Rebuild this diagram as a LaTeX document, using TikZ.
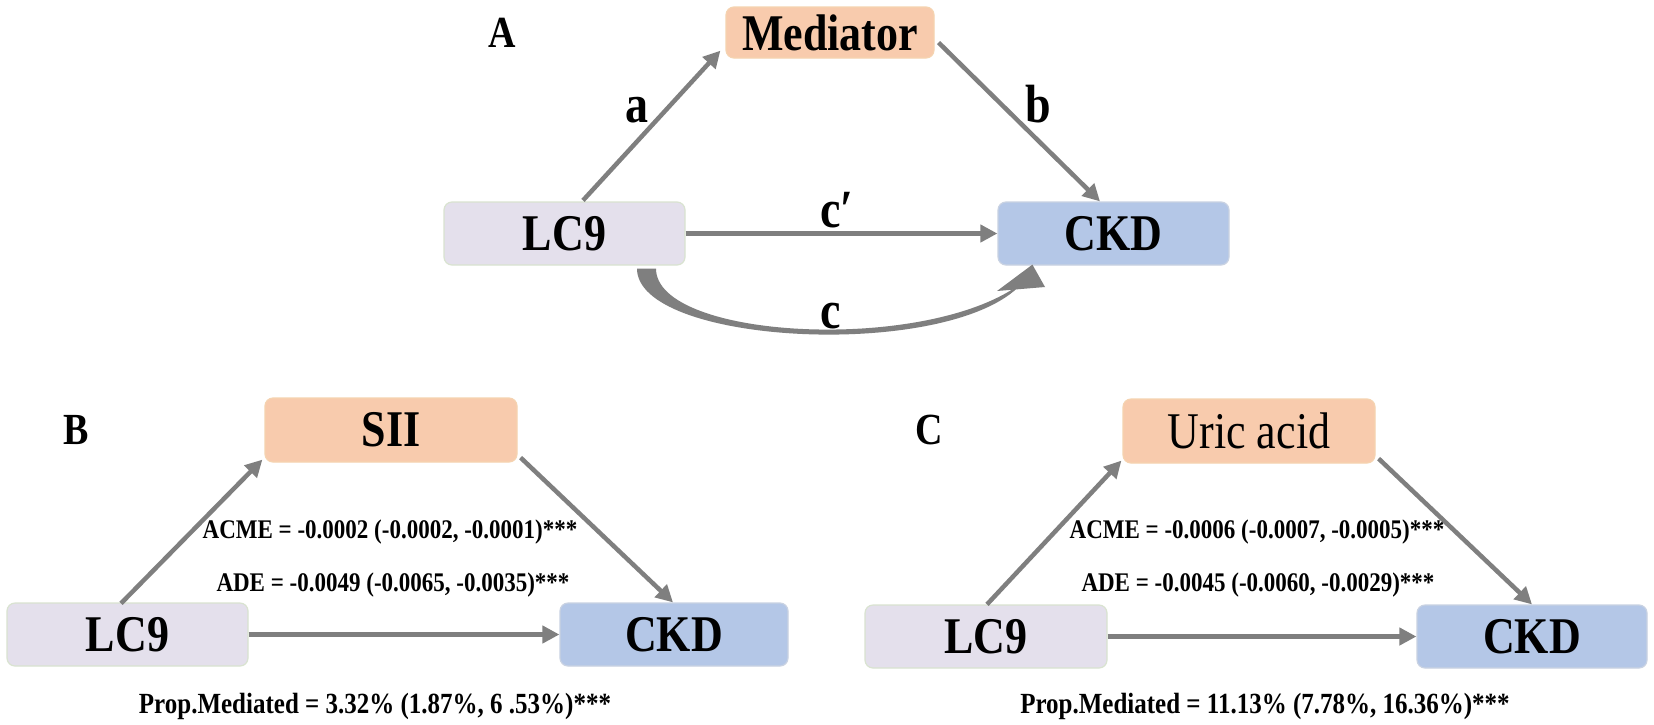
\documentclass[tikz,border=0pt]{standalone}
\usepackage{graphicx}
\usepackage{fontspec}
\setmainfont{Liberation Serif}
\usetikzlibrary{arrows.meta,calc}
\definecolor{peach}{HTML}{F8CBAD}
\definecolor{peachline}{HTML}{F5D3B0}
\definecolor{lav}{HTML}{E4E0EC}
\definecolor{lavline}{HTML}{D9E3D0}
\definecolor{sky}{HTML}{B4C7E7}
\definecolor{skyline}{HTML}{C9D2E2}
\definecolor{arrgray}{HTML}{7F7F7F}
\newcommand\Tall[1]{\scalebox{1}[1.17]{#1}}
\begin{document}
\begin{tikzpicture}[x=1pt,y=-1pt,
  box/.style={rounded corners=8pt, line width=1.2pt, inner sep=0pt, font=\fontsize{44}{48}\selectfont\bfseries},
  medbox/.style={box, fill=peach, draw=peachline},
  lcbox/.style={box, fill=lav, draw=lavline},
  ckdbox/.style={box, fill=sky, draw=skyline},
  arr/.style={draw=arrgray, line width=4.5pt, -{Triangle[length=17pt,width=17pt]}},
  harr/.style={arr, line width=5.5pt},
  lbl/.style={font=\fontsize{46}{50}\selectfont\bfseries, anchor=base, inner sep=0pt},
  panel/.style={font=\fontsize{38}{40}\selectfont\bfseries, anchor=base, inner sep=0pt},
  stat/.style={font=\fontsize{23}{26}\selectfont\bfseries, anchor=base, inner sep=0pt},
  prop/.style={font=\fontsize{25}{28}\selectfont\bfseries, anchor=base, inner sep=0pt},
]
\fill[white] (0,0) rectangle (1654,724);
\useasboundingbox (0,0) rectangle (1654,724);

% ---------- Panel A ----------
\node[panel] (pA) at (502,47) {\Tall{A}};
\node[medbox, minimum width=208pt, minimum height=51pt] (medA) at (830,32.5) {\Tall{Mediator}};
\node[lcbox, minimum width=241pt, minimum height=63pt] (lcA) at (564.5,233.5) {\Tall{LC9}};
\node[ckdbox, minimum width=231pt, minimum height=63pt] (ckdA) at (1113.5,233.5) {\Tall{CKD}};

\draw[arr] ([shift={(18.5,-1)}]lcA.north) -- ([shift={(-5,-8)}]medA.south west);
\draw[arr] ([shift={(4,-16)}]medA.south east) -- ([shift={(-13.5,0)}]ckdA.north);
\draw[harr] (lcA.east) -- (ckdA.west);

% curved total-effect arrow c
\coordinate (co) at ([shift={(72.5,3)}]lcA.south);
\coordinate (ci) at ([shift={(91.5,3)}]lcA.south);
\coordinate (ctip) at ([shift={(35,-1)}]ckdA.south west);
\fill[arrgray] (co) .. controls (637,343) and (931,360) .. (1014,291)
  -- (1023,282) .. controls (930,354) and (656,340) .. (ci) -- cycle;
\fill[arrgray] (997,291) -- (1045,287) -- (ctip) -- cycle;

\node[lbl] (la) at (637,122) {\Tall{a}};
\node[lbl] (lb) at (1038,122) {\Tall{b}};
\node[lbl] (lcp) at (837,227) {\Tall{c′}};
\node[lbl] (lc) at (831,328) {\Tall{c}};

% ---------- Panel B ----------
\node[panel] (pB) at (76,444) {\Tall{B}};
\node[medbox, minimum width=252pt, minimum height=64pt] (sii) at (391,430) {\Tall{SII}};
\node[lcbox, minimum width=241pt, minimum height=63pt] (lcB) at (127.5,634.5) {\Tall{LC9}};
\node[ckdbox, minimum width=228pt, minimum height=63pt] (ckdB) at (674,634.5) {\Tall{CKD}};

\draw[arr] ([shift={(-6.5,1)}]lcB.north) -- ([shift={(-2,-3)}]sii.south west);
\draw[arr] ([shift={(3,-5)}]sii.south east) -- ([shift={(-1,0)}]ckdB.north);
\draw[harr] (lcB.east) -- (ckdB.west);

\node[stat] (acmeB) at (390,538) {\Tall{ACME = -0.0002 (-0.0002, -0.0001)***}};
\node[stat] (adeB) at (393,591) {\Tall{ADE = -0.0049 (-0.0065, -0.0035)***}};
\node[prop] (propB) at (375,713) {\Tall{Prop.Mediated = 3.32\% (1.87\%, 6 .53\%)***}};

% ---------- Panel C ----------
\node[panel] (pC) at (929,444) {\Tall{C}};
\node[medbox, minimum width=252pt, minimum height=64pt, font=\fontsize{44}{48}\selectfont\mdseries] (uric) at (1249,431) {\Tall{Uric acid}};
\node[lcbox, minimum width=242pt, minimum height=63pt] (lcC) at (986,636.5) {\Tall{LC9}};
\node[ckdbox, minimum width=230pt, minimum height=63pt] (ckdC) at (1532,636.5) {\Tall{CKD}};

\draw[arr] ([shift={(1,0)}]lcC.north) -- ([shift={(-1,-3)}]uric.south west);
\draw[arr] ([shift={(3,-5)}]uric.south east) -- (ckdC.north);
\draw[harr] (lcC.east) -- (ckdC.west);

\node[stat] (acmeC) at (1257,538) {\Tall{ACME = -0.0006 (-0.0007, -0.0005)***}};
\node[stat] (adeC) at (1258,591) {\Tall{ADE = -0.0045 (-0.0060, -0.0029)***}};
\node[prop] (propC) at (1265,713) {\Tall{Prop.Mediated = 11.13\% (7.78\%, 16.36\%)***}};
\end{tikzpicture}
\end{document}
